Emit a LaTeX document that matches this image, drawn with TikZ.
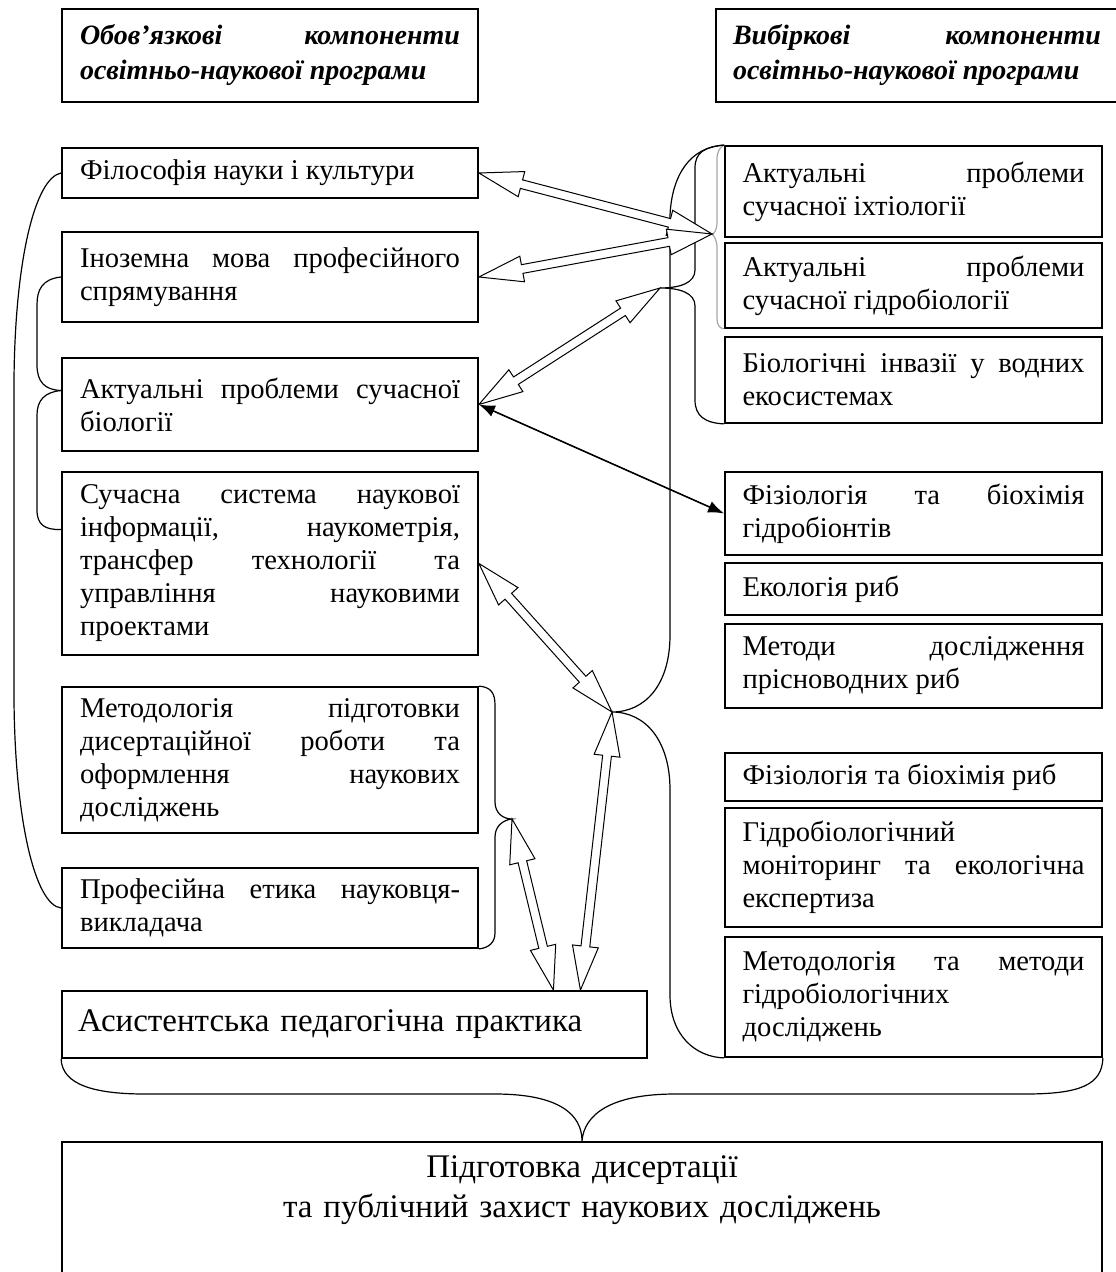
\documentclass[tikz,border=0pt]{standalone}
\usepackage{fontspec}
\setmainfont{Liberation Serif}
\usetikzlibrary{calc,arrows.meta}

\newcommand{\arrh}{22pt}
\newcommand{\arrw}{6.5pt}
\newcommand{\arrs}{2.2pt}

\begin{document}
\begin{tikzpicture}[x=0.5pt,y=-0.5pt,
  lbox/.style={draw,line width=0.9pt,text width=190pt,inner xsep=9pt,inner ysep=0pt,
    align=justify,font=\fontsize{14.3}{16.5}\selectfont},
  rbox/.style={lbox,text width=171pt,inner xsep=8.75pt},
  head/.style={font=\fontsize{14}{17.5}\selectfont\bfseries\itshape},
  brc/.style={line width=0.6pt},
  hollow/.style={draw,fill=white,line width=0.5pt,to path={
    -- ($(\tikztostart)!\arrh!(\tikztotarget)!\arrw!90:(\tikztotarget)$)
    -- ($(\tikztostart)!\arrh!(\tikztotarget)!\arrs!90:(\tikztotarget)$)
    -- ($(\tikztotarget)!\arrh!(\tikztostart)!\arrs!-90:(\tikztostart)$)
    -- ($(\tikztotarget)!\arrh!(\tikztostart)!\arrw!-90:(\tikztostart)$)
    -- (\tikztotarget)
    -- ($(\tikztotarget)!\arrh!(\tikztostart)!\arrw!90:(\tikztostart)$)
    -- ($(\tikztotarget)!\arrh!(\tikztostart)!\arrs!90:(\tikztostart)$)
    -- ($(\tikztostart)!\arrh!(\tikztotarget)!\arrs!-90:(\tikztotarget)$)
    -- ($(\tikztostart)!\arrh!(\tikztotarget)!\arrw!-90:(\tikztotarget)$)
    -- cycle}}]
  \useasboundingbox (0,0) rectangle (1115,1272);

  % headers
  \node[lbox,head,minimum height=46.5pt] (hl) at (270,55.5)
    {Обов’язкові компоненти\linebreak освітньо-наукової програми};
  \node[lbox,head,text width=184pt,inner xsep=8.5pt,minimum height=46.5pt] (hr) at (917,55.5)
    {Вибіркові компоненти\linebreak освітньо-наукової програми};

  % obligatory components
  \node[lbox,minimum height=25pt] (l1) at (270,173) {Філософія науки і культури};
  \node[lbox,minimum height=45pt] (l2) at (270,277)
    {Іноземна мова професійного\linebreak спрямування};
  \node[lbox,minimum height=46.5pt] (l3) at (270,404.5)
    {Актуальні проблеми сучасної\linebreak біології};
  \node[lbox,minimum height=91.5pt] (l4) at (270,563.5)
    {Сучасна система наукової\linebreak інформації, наукометрія,\linebreak трансфер технології та\linebreak управління науковими\linebreak проектами};
  \node[lbox,minimum height=73pt] (l5) at (270,760)
    {Методологія підготовки\linebreak дисертаційної роботи та\linebreak оформлення наукових\linebreak досліджень};
  \node[lbox,minimum height=40pt] (l6) at (270,908)
    {Професійна етика науковця-\linebreak викладача};
  \node[draw,line width=0.9pt,minimum width=292.5pt,minimum height=33.5pt,text width=276.5pt,
    inner xsep=8pt,align=left,font=\fontsize{16.5}{19}\selectfont] (asist) at (354.5,1024.5)
    {Асистентська педагогічна практика};

  % elective components
  \node[rbox,minimum height=45.5pt] (r1) at (913.5,191.5)
    {Актуальні проблеми\linebreak сучасної іхтіології};
  \node[rbox,minimum height=42.5pt] (r2) at (913.5,285.5)
    {Актуальні проблеми\linebreak сучасної гідробіології};
  \node[rbox,minimum height=43pt] (r3) at (913.5,380)
    {Біологічні інвазії у водних\linebreak екосистемах};
  \node[rbox,minimum height=41.5pt] (r4) at (913.5,513.5)
    {Фізіологія та біохімія\linebreak гідробіонтів};
  \node[rbox,minimum height=26pt] (r5) at (913.5,589) {Екологія риб};
  \node[rbox,minimum height=42pt] (r6) at (913.5,666)
    {Методи дослідження\linebreak прісноводних риб};
  \node[rbox,minimum height=24pt] (r7) at (913.5,777) {Фізіологія та біохімія риб};
  \node[rbox,minimum height=59.5pt] (r8) at (913.5,867.5)
    {Гідробіологічний\linebreak моніторинг та екологічна\linebreak експертиза};
  \node[rbox,minimum height=60pt] (r9) at (913.5,997)
    {Методологія та методи\linebreak гідробіологічних\linebreak досліджень};

  % final stage
  \node[draw,line width=0.9pt,minimum width=520pt,text width=500pt,align=center,anchor=north,
    inner ysep=7pt,text depth=50pt,font=\fontsize{16.5}{20}\selectfont] (fin) at (582,1141)
    {Підготовка дисертації\\та публічний захист наукових досліджень};

  % brace tips
  \coordinate (tipA) at (712,234);
  \coordinate (tipB) at (660,288);
  \coordinate (tipC) at (612,712);
  \coordinate (tipD) at (512,819);
  \coordinate (l3in) at ([yshift=7pt]l3.west);
  \coordinate (l4in) at ([yshift=17pt]l4.west);
  \coordinate (asA) at ($(asist.north west)!0.885!(asist.north east)$);
  \coordinate (asB) at ($(asist.north west)!0.839!(asist.north east)$);

  % braces
  \draw[brc] (l1.west) .. controls (35,178) and (15,260) .. (14,380) -- (14,700)
    .. controls (15,820) and (35,905) .. (l6.west);
  \draw[brc] (l2.west) .. controls (42,279) and (37,290) .. (37,305) -- (37,365)
    .. controls (37,382) and (45,390) .. (l3in);
  \draw[brc] (l3in) .. controls (45,392) and (37,400) .. (37,415) -- (37,510)
    .. controls (37,525) and (45,530) .. (l4in);
  \draw[brc] (l5.north east) .. controls (490,687) and (495,692) .. (495,705) -- (495,802)
    .. controls (495,813) and (503,819) .. (tipD) .. controls (503,820) and (495,826) .. (495,837)
    -- (495,933) .. controls (495,943) and (488,948) .. (l6.south east);
  \draw[brc,gray!70] (r1.north west) .. controls (719,148) and (717,152) .. (717,160) -- (717,222)
    .. controls (717,230) and (714,234) .. (tipA) .. controls (714,236) and (717,240) .. (717,248)
    -- (717,318) .. controls (717,325) and (719,328) .. (r2.south west);
  \draw[brc] (r1.north west) .. controls (705,147) and (695,152) .. (695,168) -- (695,270)
    .. controls (695,283) and (680,288) .. (tipB) .. controls (680,288) and (695,293) .. (695,306)
    -- (695,400) .. controls (695,416) and (705,423) .. (r3.south west);
  \draw[brc] (r1.north west) .. controls (690,147) and (672,175) .. (670,215) -- (670,635)
    .. controls (670,685) and (645,712) .. (tipC) .. controls (645,712) and (670,740) .. (670,790)
    -- (670,995) .. controls (670,1035) and (695,1057) .. (r9.south west);
  \draw[brc] (asist.south west) .. controls (62,1085) and (95,1094) .. (145,1094) -- (495,1094)
    .. controls (560,1094) and (582,1115) .. (fin.north) .. controls (584,1115) and (610,1094) .. (675,1094)
    -- (1025,1094) .. controls (1080,1094) and (1102,1085) .. (r9.south east);

  % links
  \draw[hollow] (l1.east) to (tipA);
  \draw[hollow] (l2.east) to (tipA);
  \draw[hollow] (l3.east) to (tipB);
  \draw[hollow] (l4.east) to (tipC);
  \draw[hollow] (tipC) to (asA);
  \draw[hollow] (tipD) to (asB);
  \draw[line width=0.8pt,{Latex[length=8pt,width=6pt]}-{Latex[length=8pt,width=6pt]}] (l3.east) -- (r4.west);
\end{tikzpicture}
\end{document}
